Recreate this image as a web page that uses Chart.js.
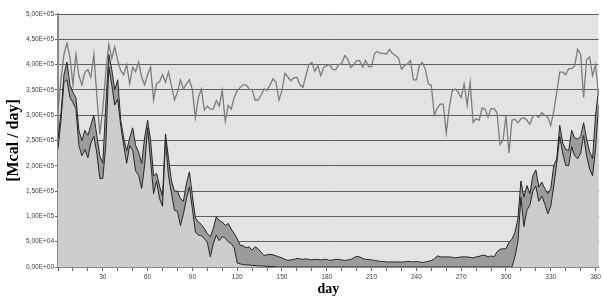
<!DOCTYPE html>
<html>
<head>
<meta charset="utf-8">
<script src="https://cdn.jsdelivr.net/npm/chart.js@4.4.1/dist/chart.umd.min.js"></script>
<style>
  html, body { margin: 0; padding: 0; background: #ffffff; }
  #wrap { width: 603px; height: 298px; position: relative; }
</style>
</head>
<body>
<div id="wrap"><canvas id="energy_chart"></canvas></div>
<script>
// sampling grid: every 2nd day, 0..362
var days = Array.from({ length: 182 }, function (_, i) { return i * 2; });

// values in thousands of Mcal/day
var topLine = [
  308,370,420,442,415,360,420,378,360,385,
  390,375,420,340,262,312,385,440,412,435,
  408,388,380,400,362,395,386,405,375,360,
  380,395,330,362,366,380,365,385,358,330,
  345,370,352,362,370,350,295,335,352,310,
  318,312,312,329,318,349,288,319,312,335,
  348,355,360,360,352,350,330,330,340,352,
  349,360,372,365,330,349,383,375,368,374,
  375,360,355,378,400,404,387,398,378,395,
  398,400,390,390,400,402,418,411,394,400,
  408,408,395,408,396,396,422,426,422,422,
  421,430,422,418,413,391,398,401,408,370,
  370,398,404,391,362,359,300,314,322,322,
  265,315,348,352,345,335,362,320,365,286,
  293,290,314,312,296,313,313,305,242,250,
  299,225,290,292,285,293,295,290,282,298,
  300,296,305,300,296,280,308,345,385,385,
  380,392,392,398,430,420,335,410,415,378,
  400,339
];

var upperArea = [
  253,305,380,405,360,345,335,270,250,270,
  260,280,300,260,220,205,320,420,390,350,
  370,290,255,230,255,275,240,227,205,255,
  290,250,180,185,160,140,263,215,170,150,
  150,135,130,165,188,141,97,89,84,76,
  66,60,76,99,92,89,82,86,75,66,
  56,43,42,38,40,33,40,36,29,23,
  24,25,24,22,20,18,15,13,14,15,
  17,16,15,16,15,14,15,15,14,15,
  15,13,14,15,15,14,13,14,15,18,
  21,20,17,15,15,14,13,12,11,11,
  10,10,10,10,10,10,10,11,11,10,
  11,10,9,10,11,13,16,22,20,20,
  20,20,19,18,19,20,20,20,19,18,
  20,21,23,23,20,22,20,30,35,36,
  36,49,55,68,95,170,138,161,145,180,
  192,158,168,155,145,155,200,214,280,245,
  233,230,270,255,253,258,285,253,228,214,
  300,350
];

var lowerArea = [
  233,290,365,370,335,325,313,240,220,232,
  216,245,258,225,175,175,240,395,360,320,
  332,280,240,205,240,230,190,181,155,200,
  275,210,145,170,135,120,250,180,145,112,
  110,82,105,135,158,115,69,63,62,56,
  49,20,46,63,52,60,57,50,46,38,
  8,6,5,4,4,3,3,2,2,2,
  1,1,1,0,0,0,0,0,0,0,
  0,0,0,0,0,0,0,0,0,0,
  0,0,0,0,0,0,0,0,0,0,
  0,0,0,0,0,0,0,0,0,0,
  0,0,0,0,0,0,0,0,0,0,
  0,0,0,0,0,0,0,0,0,0,
  0,0,0,0,0,0,0,0,0,0,
  0,0,0,0,0,0,0,0,0,0,
  0,0,0,20,50,138,80,112,122,150,
  160,130,140,125,105,120,160,205,258,225,
  201,200,238,220,214,225,260,220,194,180,
  235,320
];

function toPoints(vals) {
  return vals.map(function (v, i) { return { x: days[i], y: v * 1000 }; });
}

function sciLabel(v) {
  var s = Number(v).toExponential(2);          // "5.00e+5"
  var parts = s.split('e');
  var exp = parseInt(parts[1], 10);
  var sign = exp < 0 ? '-' : '+';
  var e = Math.abs(exp);
  return parts[0].replace('.', ',') + 'E' + sign + (e < 10 ? '0' + e : e);
}

var plotBg = {
  id: 'plotBg',
  beforeDraw: function (chart) {
    var a = chart.chartArea, c = chart.ctx;
    c.save();
    c.fillStyle = '#e3e3e3';
    c.fillRect(a.left, a.top, a.right - a.left, a.bottom - a.top);
    c.restore();
  }
};

var ctx = document.getElementById('energy_chart').getContext('2d');
var chart = new Chart(ctx, {
  type: 'line',
  data: {
    datasets: [{
      label: 'top',
      data: toPoints(topLine),
      borderColor: '#7c7c7c',
      borderWidth: 1.3,
      fill: false
    }, {
      label: 'lower',
      data: toPoints(lowerArea),
      borderColor: '#262626',
      borderWidth: 1,
      backgroundColor: '#cdcdcd',
      fill: 'origin'
    }, {
      label: 'upper',
      data: toPoints(upperArea),
      borderColor: '#262626',
      borderWidth: 1,
      backgroundColor: '#9b9b9b',
      fill: 'origin'
    }]
  },
  options: {
    responsive: true,
    maintainAspectRatio: false,
    animation: false,
    layout: { padding: { top: 14, right: 2, left: 0, bottom: 0 } },
    elements: {
      point: { radius: 0 },
      line: { tension: 0 }
    },
    plugins: {
      legend: { display: false },
      tooltip: { enabled: false }
    },
    scales: {
      x: {
        type: 'linear',
        min: 0,
        max: 362,
        offset: false,
        afterFit: function (s) { s.height = 31; },
        border: { display: true, color: '#8a8a8a', width: 2 },
        grid: { drawOnChartArea: false, drawTicks: true, tickLength: 4, color: '#666666' },
        ticks: {
          stepSize: 10,
          includeBounds: false,
          autoSkip: false,
          maxRotation: 0,
          padding: 2,
          color: '#404040',
          font: { family: 'Liberation Sans, Arial, sans-serif', size: 6.5 },
          callback: function (v) { return (v > 0 && v % 30 === 0) ? String(v) : ''; }
        },
        title: {
          display: true,
          text: 'day',
          color: '#000000',
          padding: { top: 0, bottom: 0 },
          font: { family: 'Liberation Serif, Times New Roman, serif', size: 14, weight: 'bold' }
        }
      },
      y: {
        min: 0,
        max: 500000,
        afterFit: function (s) { s.width = 58; },
        border: { display: true, color: '#8a8a8a', width: 2 },
        grid: { color: '#5e5e5e', lineWidth: 1, tickLength: 3, drawTicks: true },
        ticks: {
          stepSize: 50000,
          padding: 1,
          color: '#404040',
          font: { family: 'Liberation Sans, Arial, sans-serif', size: 6.5 },
          callback: function (v) { return sciLabel(v); }
        },
        title: {
          display: true,
          text: '[Mcal / day]',
          color: '#000000',
          padding: { top: 4, bottom: 0 },
          font: { family: 'Liberation Serif, Times New Roman, serif', size: 16, weight: 'bold' }
        }
      }
    }
  },
  plugins: [plotBg]
});
</script>
</body>
</html>
